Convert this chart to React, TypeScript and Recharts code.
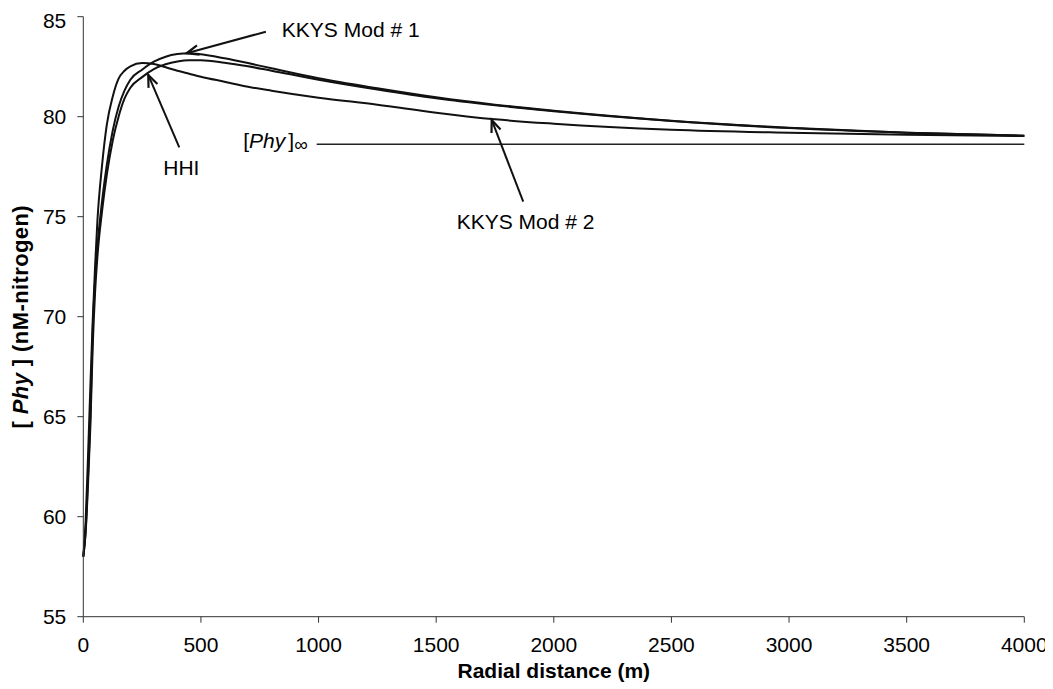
import {
    LineChart,
    Line,
    XAxis,
    YAxis,
    ReferenceLine,
    ReferenceDot,
} from 'recharts';

// radial distance (m)
const distance = [
    0, 10, 20, 30, 40, 50, 60, 80, 100, 125, 150, 175, 200, 250, 300, 350, 400,
    450, 500, 600, 700, 800, 1000, 1250, 1500, 1750, 2000, 2500, 3000, 3500, 4000,
];

const kkysMod1 = [
    58.0, 59.3, 62.0, 65.0, 69.3, 71.8, 73.5, 75.8, 77.6, 79.3, 80.5, 81.3, 81.85,
    82.35, 82.75, 83.0, 83.13, 83.17, 83.12, 82.92, 82.68, 82.42, 81.92, 81.42,
    80.97, 80.6, 80.3, 79.8, 79.45, 79.2, 79.05,
];

const hhi = [
    58.0, 59.2, 61.6, 64.5, 68.5, 71.2, 73.0, 75.3, 77.1, 78.8, 80.0, 80.9, 81.45,
    81.98, 82.38, 82.62, 82.76, 82.82, 82.82, 82.7, 82.52, 82.3, 81.85, 81.36,
    80.92, 80.57, 80.27, 79.78, 79.43, 79.2, 79.05,
];

const kkysMod2 = [
    58.0, 59.8, 63.0, 66.5, 69.8, 72.5, 74.8, 77.6, 79.6, 81.0, 81.9, 82.3, 82.52,
    82.68, 82.64, 82.47, 82.3, 82.15, 82.0, 81.75, 81.5, 81.3, 80.95, 80.6, 80.2,
    79.87, 79.65, 79.35, 79.2, 79.1, 79.03,
];

// [Phy] at infinity
const asymptoteX = [992, 4000];
const asymptoteY = [78.62, 78.62];

const xTicks = [0, 500, 1000, 1500, 2000, 2500, 3000, 3500, 4000];
const yTicks = [55, 60, 65, 70, 75, 80, 85];

const data = distance.map((x, i) => ({
    x,
    mod1: kkysMod1[i],
    hhi: hhi[i],
    mod2: kkysMod2[i],
}));

const asymptote = asymptoteX.map((x, i) => ({ x, inf: asymptoteY[i] }));

const FONT = '"Liberation Sans", Arial, Helvetica, sans-serif';
const INK = '#111';

const Arrow = (p: any) => {
    const { x1, y1, x2, y2 } = p;
    const a = Math.atan2(y2 - y1, x2 - x1);
    const len = 13;
    const w = 0.38;
    const ax = x2 - len * Math.cos(a - w);
    const ay = y2 - len * Math.sin(a - w);
    const bx = x2 - len * Math.cos(a + w);
    const by = y2 - len * Math.sin(a + w);
    return (
        <g>
            <line x1={x1} y1={y1} x2={x2} y2={y2} stroke={INK} strokeWidth={2} />
            <path
                d={`M${ax},${ay} L${x2},${y2} L${bx},${by}`}
                fill="none"
                stroke={INK}
                strokeWidth={2.2}
            />
        </g>
    );
};

const note = (text: string) => (p: any) => (
    <text x={p.cx} y={p.cy} fontFamily={FONT} fontSize={21} fill="#000">
        {text}
    </text>
);

const PhyInf = (p: any) => (
    <text x={p.cx} y={p.cy} fontFamily={FONT} fontSize={21} fill="#000">
        <tspan>[</tspan>
        <tspan fontStyle="italic">Phy</tspan>
        <tspan dx={3}>]</tspan>
        <tspan fontSize={19} dy={3}>∞</tspan>
    </text>
);

const YTitle = (props: any) => {
    const vb = props.viewBox;
    const cx = 12;
    const cy = vb.y + vb.height / 2;
    return (
        <text
            x={cx}
            y={cy}
            transform={`rotate(-90 ${cx} ${cy})`}
            textAnchor="middle"
            dominantBaseline="central"
            fontFamily={FONT}
            fontSize={22}
            fontWeight="bold"
            letterSpacing={0.4}
            fill="#000"
        >
            <tspan>[ </tspan>
            <tspan fontStyle="italic">Phy</tspan>
            <tspan> ] (nM-nitrogen)</tspan>
        </text>
    );
};

const XTitle = (props: any) => {
    const vb = props.viewBox;
    return (
        <text
            x={vb.x + vb.width / 2}
            y={670}
            textAnchor="middle"
            fontFamily={FONT}
            fontSize={21}
            fontWeight="bold"
            fill="#000"
        >
            Radial distance (m)
        </text>
    );
};

export default function App() {
    return (
        <div style={{ width: 1045, height: 681 }}>
            <LineChart
                width={1045}
                height={681}
                data={data}
                margin={{ top: 8.7, right: 28.7, bottom: 0, left: 0 }}
            >
                <XAxis
                    type="number"
                    dataKey="x"
                    domain={[0, 4000]}
                    ticks={xTicks}
                    height={72.3}
                    tickSize={6}
                    tickMargin={14}
                    stroke="#333"
                    tick={{ fill: '#000', fontSize: 21, fontFamily: FONT }}
                    label={{ content: XTitle }}
                />
                <YAxis
                    type="number"
                    domain={[55, 85]}
                    ticks={yTicks}
                    width={75.3}
                    tickSize={6}
                    tickMargin={11}
                    stroke="#333"
                    tick={{ fill: '#000', fontSize: 21, fontFamily: FONT }}
                    label={{ content: YTitle }}
                />
                <Line
                    data={asymptote}
                    dataKey="inf"
                    type="linear"
                    stroke="#222"
                    strokeWidth={1.4}
                    dot={false}
                    isAnimationActive={false}
                />
                <Line
                    dataKey="mod2"
                    type="monotone"
                    stroke={INK}
                    strokeWidth={2}
                    dot={false}
                    isAnimationActive={false}
                />
                <Line
                    dataKey="hhi"
                    type="monotone"
                    stroke={INK}
                    strokeWidth={2}
                    dot={false}
                    isAnimationActive={false}
                />
                <Line
                    dataKey="mod1"
                    type="monotone"
                    stroke={INK}
                    strokeWidth={2}
                    dot={false}
                    isAnimationActive={false}
                />
                <ReferenceLine
                    segment={[{ x: 776, y: 84.25 }, { x: 439, y: 83.17 }]}
                    shape={Arrow}
                    ifOverflow="visible"
                />
                <ReferenceLine
                    segment={[{ x: 1870, y: 75.75 }, { x: 1736, y: 79.84 }]}
                    shape={Arrow}
                    ifOverflow="visible"
                />
                <ReferenceLine
                    segment={[{ x: 408, y: 78.47 }, { x: 276, y: 82.09 }]}
                    shape={Arrow}
                    ifOverflow="visible"
                />
                <ReferenceDot x={844} y={83.97} shape={note('KKYS Mod # 1')} ifOverflow="visible" />
                <ReferenceDot x={1587} y={74.37} shape={note('KKYS Mod # 2')} ifOverflow="visible" />
                <ReferenceDot x={340} y={77.09} shape={note('HHI')} ifOverflow="visible" />
                <ReferenceDot x={680} y={78.42} shape={PhyInf} ifOverflow="visible" />
            </LineChart>
        </div>
    );
}
